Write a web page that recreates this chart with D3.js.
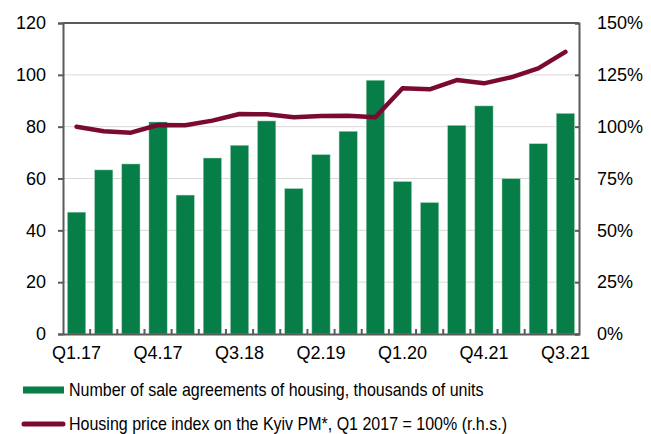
<!DOCTYPE html>
<html>
<head>
<meta charset="utf-8">
<script src="https://cdn.jsdelivr.net/npm/d3@7"></script>
<style>
  body { margin: 0; background: #fff; }
  text { font-family: "Liberation Sans", Arial, sans-serif; fill: #000; }
</style>
</head>
<body>
<script>
// data
var quarters = ["Q1.17", "Q2.17", "Q3.17", "Q4.17", "Q1.18", "Q2.18", "Q3.18", "Q4.18",
    "Q1.19", "Q2.19", "Q3.19", "Q4.19", "Q1.20", "Q2.20", "Q3.20", "Q4.20",
    "Q1.21", "Q2.21", "Q3.21"];
var agreements = [47, 63.3, 65.6, 81.8, 53.6, 67.9, 72.8, 82.2, 56.1, 69.2, 78.2, 97.9,
    58.8, 50.7, 80.5, 88, 59.9, 73.4, 85.1];
var priceIndex = [100, 97.8, 97.1, 100.8, 100.7, 102.9, 106.1, 106, 104.5, 105.1, 105.3, 104.5,
    118.5, 118, 122.5, 120.9, 123.8, 128.1, 136.1];
// shown tick labels (as printed on the original)
var tickLabels = { 0: "Q1.17", 3: "Q4.17", 6: "Q3.18", 9: "Q2.19", 12: "Q1.20", 15: "Q4.21", 18: "Q3.21" };
var leftTicks = [0, 20, 40, 60, 80, 100, 120];
var rightTicks = [0, 25, 50, 75, 100, 125, 150];
var legendLabels = ["Number of sale agreements of housing, thousands of units",
    "Housing price index on the Kyiv PM*, Q1 2017 = 100% (r.h.s.)"];

// Step 1: chart setup
var svgWidth = 651, svgHeight = 434;
var margin = { top: 23, right: 72, bottom: 100, left: 63 };
var chartWidth = svgWidth - margin.left - margin.right;
var chartHeight = svgHeight - margin.top - margin.bottom;

var green = "#077d47", maroon = "#7a0a32", axisColor = "#5a5a5a";

var svg = d3.select("body").append("svg")
    .attr("width", svgWidth)
    .attr("height", svgHeight);

var chartGroup = svg.append("g")
    .attr("transform", `translate(${margin.left}, ${margin.top})`);

// scales
var x = d3.scaleBand().domain(quarters).range([0, chartWidth]).paddingInner(0.33).paddingOuter(0.165);
var xCenter = d3.scaleBand().domain(quarters).range([0, chartWidth]);
var yLeft = d3.scaleLinear().domain([0, 120]).range([chartHeight, 0]);
var yRight = d3.scaleLinear().domain([0, 150]).range([chartHeight, 0]);

// gridlines
chartGroup.append("g")
    .selectAll("line")
    .data(leftTicks.slice(1, -1))
    .enter().append("line")
    .attr("x1", 0).attr("x2", chartWidth)
    .attr("y1", d => yLeft(d)).attr("y2", d => yLeft(d))
    .attr("stroke", "#d9d9d9").attr("stroke-width", 1);

// bars
chartGroup.selectAll(".bar")
    .data(agreements)
    .enter().append("rect")
    .attr("class", "bar")
    .attr("x", (d, i) => x(quarters[i]))
    .attr("width", x.bandwidth())
    .attr("y", d => yLeft(d))
    .attr("height", d => chartHeight - yLeft(d))
    .attr("fill", green)
    .attr("stroke", "#9fd0b4")
    .attr("stroke-width", 0.5);

// line
var priceLine = d3.line()
    .x((d, i) => xCenter(quarters[i]) + xCenter.bandwidth() / 2)
    .y(d => yRight(d));

chartGroup.append("path")
    .attr("d", priceLine(priceIndex))
    .attr("fill", "none")
    .attr("stroke", maroon)
    .attr("stroke-width", 4.5)
    .attr("stroke-linecap", "round")
    .attr("stroke-linejoin", "round");

// axes
var leftAxis = d3.axisLeft(yLeft).tickValues(leftTicks).tickSize(5).tickPadding(12);
var rightAxis = d3.axisRight(yRight).tickValues(rightTicks).tickSize(-4).tickPadding(18)
    .tickFormat(d => d + "%");
var bottomAxis = d3.axisBottom(xCenter).tickSize(0).tickPadding(12)
    .tickFormat((d, i) => tickLabels[i] || "");

var gl = chartGroup.append("g").call(leftAxis);
var gr = chartGroup.append("g").attr("transform", `translate(${chartWidth}, 0)`).call(rightAxis);
var gb = chartGroup.append("g").attr("transform", `translate(0, ${chartHeight})`).call(bottomAxis);

[gl, gr, gb].forEach(function (g) {
    g.select(".domain").attr("stroke", axisColor).attr("stroke-width", 2);
    g.selectAll(".tick line").attr("stroke", axisColor).attr("stroke-width", 2);
    g.selectAll("text").style("font-size", "18px").attr("fill", "#000");
});
gr.selectAll(".tick text").attr("x", 18);

// category separators on x axis (inward)
chartGroup.append("g")
    .selectAll("line")
    .data(quarters.slice(1))
    .enter().append("line")
    .attr("x1", d => xCenter(d)).attr("x2", d => xCenter(d))
    .attr("y1", chartHeight).attr("y2", chartHeight - 5)
    .attr("stroke", axisColor).attr("stroke-width", 2);

// top border
chartGroup.append("line")
    .attr("x1", 0).attr("x2", chartWidth)
    .attr("y1", 0).attr("y2", 0)
    .attr("stroke", axisColor).attr("stroke-width", 2);

// legend
var legend = svg.append("g");
legend.append("rect")
    .attr("x", 23).attr("y", 386.5)
    .attr("width", 41).attr("height", 7)
    .attr("fill", green);
legend.append("line")
    .attr("x1", 24).attr("x2", 63)
    .attr("y1", 424).attr("y2", 424)
    .attr("stroke", maroon).attr("stroke-width", 5)
    .attr("stroke-linecap", "round");
// legend text is condensed in the original
legend.selectAll("text")
    .data(legendLabels)
    .enter().append("text")
    .attr("transform", (d, i) => `translate(69, ${390 + i * 34}) scale(0.89, 1)`)
    .attr("dy", "0.35em")
    .style("font-size", "18px")
    .text(d => d);
</script>
</body>
</html>
